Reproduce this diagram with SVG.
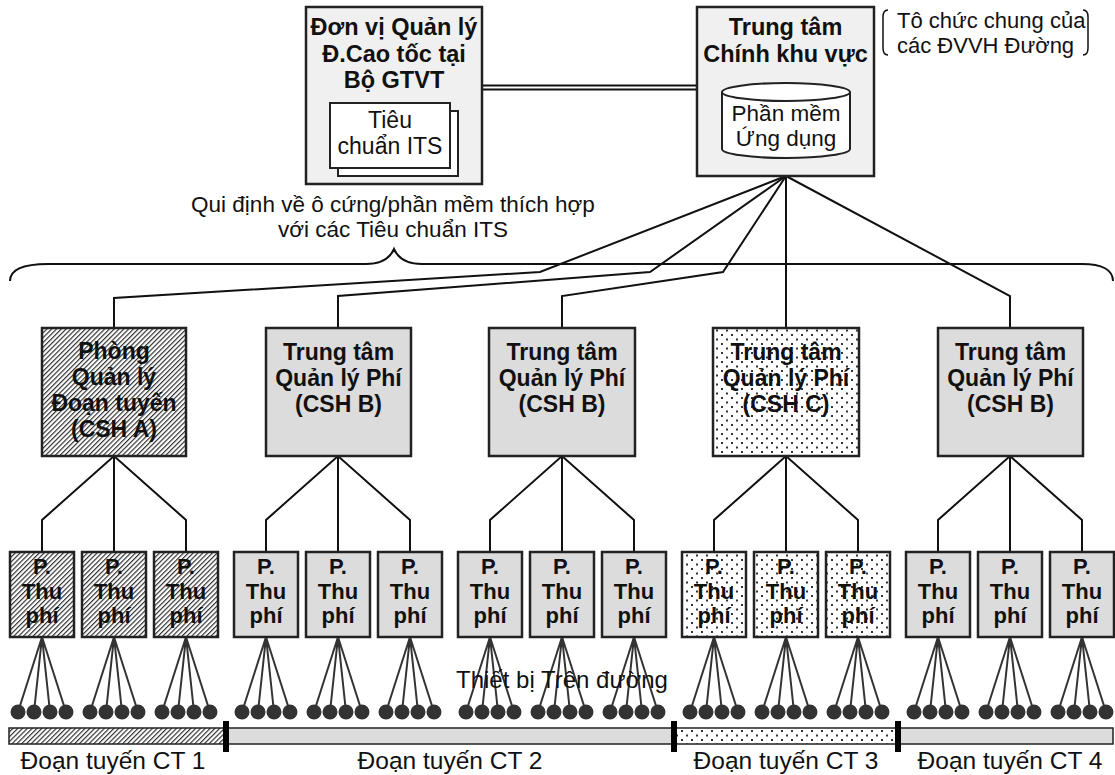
<svg xmlns="http://www.w3.org/2000/svg" width="1115" height="775" viewBox="0 0 1115 775">
<defs>
<style>
.t{font-family:"Liberation Sans",Arial,sans-serif;fill:#111;text-anchor:middle}
.b{font-weight:bold;font-size:23.5px}
.m{font-weight:bold;font-size:23px}
.p{font-weight:bold;font-size:22px}
.r{font-size:23px}
.bx{stroke:#222;stroke-width:2.5}
.ln{fill:none;stroke:#111;stroke-width:2}
.fan{stroke:#333;stroke-width:2}
.dot{fill:#333}
</style>
<pattern id="hatch" width="3.4" height="3.4" patternUnits="userSpaceOnUse" patternTransform="rotate(45)">
<rect width="3.4" height="3.4" fill="#fff"/>
<line x1="0.6" y1="0" x2="0.6" y2="3.4" stroke="#222" stroke-width="1.1"/>
</pattern>
<pattern id="dots" width="10" height="9" patternUnits="userSpaceOnUse">
<rect width="10" height="9" fill="#fff"/>
<rect x="1" y="1" width="2" height="2" fill="#333"/>
<rect x="6" y="5.5" width="2" height="2" fill="#333"/>
</pattern>
</defs>
<rect width="1115" height="775" fill="#fff"/>

<!-- brace and annotation -->
<g id="annotations" fill="none" stroke="#111" stroke-width="2">
<path d="M10,281 C10,270 22,264 48,264 L366,264 C382,264 390,258 394,249 C398,258 406,264 422,264 L1082,264 C1102,264 1113,270 1113,281"/>
<path d="M888,10 C884,10 883,13 883,17 L883,48 C883,52 884,55 888,55" stroke-width="1.5"/>
<path d="M1083,10 C1087,10 1088,13 1088,17 L1088,48 C1088,52 1087,55 1083,55" stroke-width="1.5"/>
</g>
<text class="t" style="font-size:22px;text-anchor:start"><tspan x="897" y="28">Tô chức chung của</tspan><tspan x="897" y="53">các ĐVVH Đường</tspan></text>
<text class="t" style="font-size:22.5px"><tspan x="393" y="212">Qui định về ô cứng/phần mềm thích hợp</tspan><tspan x="393" y="237">với các Tiêu chuẩn ITS</tspan></text>

<!-- connectors -->
<g id="connectors">
<line x1="482" y1="85.5" x2="697" y2="85.5" class="ln"/>
<line x1="482" y1="89.5" x2="697" y2="89.5" class="ln"/>
<polyline class="ln" points="786,176 540,272 114,298 114,328"/>
<polyline class="ln" points="786,176 650,272 338,296 338,328"/>
<polyline class="ln" points="786,176 723,272 562,296 562,328"/>
<polyline class="ln" points="786,176 786,328"/>
<polyline class="ln" points="786,176 1010,296 1010,328"/>
<g id="mid-to-child">
<polyline class="ln" points="42,552 42,520 114,456 186,520 186,552"/><line class="ln" x1="114" y1="456" x2="114" y2="552"/>
<polyline class="ln" points="266,552 266,520 338,456 410,520 410,552"/><line class="ln" x1="338" y1="456" x2="338" y2="552"/>
<polyline class="ln" points="490,552 490,520 562,456 634,520 634,552"/><line class="ln" x1="562" y1="456" x2="562" y2="552"/>
<polyline class="ln" points="714,552 714,520 786,456 858,520 858,552"/><line class="ln" x1="786" y1="456" x2="786" y2="552"/>
<polyline class="ln" points="938,552 938,520 1010,456 1082,520 1082,552"/><line class="ln" x1="1010" y1="456" x2="1010" y2="552"/>
</g>
<g id="fans">
<path class="fan" d="M42,637L18,712M42,637L34,712M42,637L50,712M42,637L66,712"/>
<path class="fan" d="M114,637L90,712M114,637L106,712M114,637L122,712M114,637L138,712"/>
<path class="fan" d="M186,637L162,712M186,637L178,712M186,637L194,712M186,637L210,712"/>
<path class="fan" d="M266,637L242,712M266,637L258,712M266,637L274,712M266,637L290,712"/>
<path class="fan" d="M338,637L314,712M338,637L330,712M338,637L346,712M338,637L362,712"/>
<path class="fan" d="M410,637L386,712M410,637L402,712M410,637L418,712M410,637L434,712"/>
<path class="fan" d="M490,637L466,712M490,637L482,712M490,637L498,712M490,637L514,712"/>
<path class="fan" d="M562,637L538,712M562,637L554,712M562,637L570,712M562,637L586,712"/>
<path class="fan" d="M634,637L610,712M634,637L626,712M634,637L642,712M634,637L658,712"/>
<path class="fan" d="M714,637L690,712M714,637L706,712M714,637L722,712M714,637L738,712"/>
<path class="fan" d="M786,637L762,712M786,637L778,712M786,637L794,712M786,637L810,712"/>
<path class="fan" d="M858,637L834,712M858,637L850,712M858,637L866,712M858,637L882,712"/>
<path class="fan" d="M938,637L914,712M938,637L930,712M938,637L946,712M938,637L962,712"/>
<path class="fan" d="M1010,637L986,712M1010,637L1002,712M1010,637L1018,712M1010,637L1034,712"/>
<path class="fan" d="M1082,637L1058,712M1082,637L1074,712M1082,637L1090,712M1082,637L1106,712"/>
</g>
</g>

<!-- top nodes -->
<g id="node-dvql">
<rect class="bx" x="306" y="7" width="176" height="177" fill="#f0f0f0"/>
<text class="t b"><tspan x="394" y="35">Đơn vị Quản lý</tspan><tspan x="394" y="61.5">Đ.Cao tốc tại</tspan><tspan x="394" y="88">Bộ GTVT</tspan></text>
<rect x="338" y="111" width="120" height="65" fill="#fff" stroke="#222" stroke-width="2"/>
<rect x="330" y="103" width="120" height="65" fill="#fff" stroke="#222" stroke-width="2"/>
<text class="t r"><tspan x="390" y="128">Tiêu</tspan><tspan x="390" y="154">chuẩn ITS</tspan></text>
</g>
<g id="node-ttc">
<rect class="bx" x="697" y="7" width="177" height="169" fill="#f0f0f0"/>
<text class="t b"><tspan x="785.5" y="35">Trung tâm</tspan><tspan x="785.5" y="62">Chính khu vực</tspan></text>
<path d="M722,92 L722,149 A64,9 0 0 0 850,149 L850,92" fill="#fff" stroke="#222" stroke-width="2"/>
<ellipse cx="786" cy="92" rx="64" ry="9" fill="#fff" stroke="#222" stroke-width="2"/>
<text class="t" style="font-size:22.5px"><tspan x="786" y="121">Phần mềm</tspan><tspan x="786" y="146">Ứng dụng</tspan></text>
</g>

<!-- middle nodes -->
<g id="node-pql-a">
<rect class="bx" x="42" y="328" width="144" height="128" fill="url(#hatch)"/>
<text class="t m"><tspan x="114" y="359">Phòng</tspan><tspan x="114" y="385">Quản lý</tspan><tspan x="114" y="411">Đoạn tuyến</tspan><tspan x="114" y="437">(CSH A)</tspan></text>
</g>
<g id="node-ttqlp-b1">
<rect class="bx" x="266" y="328" width="145" height="128" fill="#dcdcdc"/>
<text class="t m"><tspan x="338.5" y="360">Trung tâm</tspan><tspan x="338.5" y="386">Quản lý Phí</tspan><tspan x="338.5" y="412">(CSH B)</tspan></text>
</g>
<g id="node-ttqlp-b2">
<rect class="bx" x="489" y="328" width="146" height="128" fill="#dcdcdc"/>
<text class="t m"><tspan x="562" y="360">Trung tâm</tspan><tspan x="562" y="386">Quản lý Phí</tspan><tspan x="562" y="412">(CSH B)</tspan></text>
</g>
<g id="node-ttqlp-c">
<rect class="bx" x="713" y="328" width="146" height="128" fill="url(#dots)"/>
<text class="t m"><tspan x="786" y="360">Trung tâm</tspan><tspan x="786" y="386">Quản lý Phí</tspan><tspan x="786" y="412">(CSH C)</tspan></text>
</g>
<g id="node-ttqlp-b3">
<rect class="bx" x="938" y="328" width="145" height="128" fill="#dcdcdc"/>
<text class="t m"><tspan x="1010.5" y="360">Trung tâm</tspan><tspan x="1010.5" y="386">Quản lý Phí</tspan><tspan x="1010.5" y="412">(CSH B)</tspan></text>
</g>

<!-- toll booths -->
<g id="booth-a1"><rect class="bx" x="10" y="552" width="64" height="85" fill="url(#hatch)"/><text class="t p"><tspan x="42" y="574">P.</tspan><tspan x="42" y="598.5">Thu</tspan><tspan x="42" y="623">phí</tspan></text></g>
<g id="booth-a2"><rect class="bx" x="82" y="552" width="64" height="85" fill="url(#hatch)"/><text class="t p"><tspan x="114" y="574">P.</tspan><tspan x="114" y="598.5">Thu</tspan><tspan x="114" y="623">phí</tspan></text></g>
<g id="booth-a3"><rect class="bx" x="154" y="552" width="64" height="85" fill="url(#hatch)"/><text class="t p"><tspan x="186" y="574">P.</tspan><tspan x="186" y="598.5">Thu</tspan><tspan x="186" y="623">phí</tspan></text></g>
<g id="booth-b1"><rect class="bx" x="234" y="552" width="64" height="85" fill="#dcdcdc"/><text class="t p"><tspan x="266" y="574">P.</tspan><tspan x="266" y="598.5">Thu</tspan><tspan x="266" y="623">phí</tspan></text></g>
<g id="booth-b2"><rect class="bx" x="306" y="552" width="64" height="85" fill="#dcdcdc"/><text class="t p"><tspan x="338" y="574">P.</tspan><tspan x="338" y="598.5">Thu</tspan><tspan x="338" y="623">phí</tspan></text></g>
<g id="booth-b3"><rect class="bx" x="378" y="552" width="64" height="85" fill="#dcdcdc"/><text class="t p"><tspan x="410" y="574">P.</tspan><tspan x="410" y="598.5">Thu</tspan><tspan x="410" y="623">phí</tspan></text></g>
<g id="booth-b4"><rect class="bx" x="458" y="552" width="64" height="85" fill="#dcdcdc"/><text class="t p"><tspan x="490" y="574">P.</tspan><tspan x="490" y="598.5">Thu</tspan><tspan x="490" y="623">phí</tspan></text></g>
<g id="booth-b5"><rect class="bx" x="530" y="552" width="64" height="85" fill="#dcdcdc"/><text class="t p"><tspan x="562" y="574">P.</tspan><tspan x="562" y="598.5">Thu</tspan><tspan x="562" y="623">phí</tspan></text></g>
<g id="booth-b6"><rect class="bx" x="602" y="552" width="64" height="85" fill="#dcdcdc"/><text class="t p"><tspan x="634" y="574">P.</tspan><tspan x="634" y="598.5">Thu</tspan><tspan x="634" y="623">phí</tspan></text></g>
<g id="booth-c1"><rect class="bx" x="682" y="552" width="64" height="85" fill="url(#dots)"/><text class="t p"><tspan x="714" y="574">P.</tspan><tspan x="714" y="598.5">Thu</tspan><tspan x="714" y="623">phí</tspan></text></g>
<g id="booth-c2"><rect class="bx" x="754" y="552" width="64" height="85" fill="url(#dots)"/><text class="t p"><tspan x="786" y="574">P.</tspan><tspan x="786" y="598.5">Thu</tspan><tspan x="786" y="623">phí</tspan></text></g>
<g id="booth-c3"><rect class="bx" x="826" y="552" width="64" height="85" fill="url(#dots)"/><text class="t p"><tspan x="858" y="574">P.</tspan><tspan x="858" y="598.5">Thu</tspan><tspan x="858" y="623">phí</tspan></text></g>
<g id="booth-b7"><rect class="bx" x="906" y="552" width="64" height="85" fill="#dcdcdc"/><text class="t p"><tspan x="938" y="574">P.</tspan><tspan x="938" y="598.5">Thu</tspan><tspan x="938" y="623">phí</tspan></text></g>
<g id="booth-b8"><rect class="bx" x="978" y="552" width="64" height="85" fill="#dcdcdc"/><text class="t p"><tspan x="1010" y="574">P.</tspan><tspan x="1010" y="598.5">Thu</tspan><tspan x="1010" y="623">phí</tspan></text></g>
<g id="booth-b9"><rect class="bx" x="1050" y="552" width="64" height="85" fill="#dcdcdc"/><text class="t p"><tspan x="1082" y="574">P.</tspan><tspan x="1082" y="598.5">Thu</tspan><tspan x="1082" y="623">phí</tspan></text></g>

<!-- roadside devices -->
<g id="devices" class="dot">
<circle cx="18" cy="712" r="7.5"/><circle cx="34" cy="712" r="7.5"/><circle cx="50" cy="712" r="7.5"/><circle cx="66" cy="712" r="7.5"/>
<circle cx="90" cy="712" r="7.5"/><circle cx="106" cy="712" r="7.5"/><circle cx="122" cy="712" r="7.5"/><circle cx="138" cy="712" r="7.5"/>
<circle cx="162" cy="712" r="7.5"/><circle cx="178" cy="712" r="7.5"/><circle cx="194" cy="712" r="7.5"/><circle cx="210" cy="712" r="7.5"/>
<circle cx="242" cy="712" r="7.5"/><circle cx="258" cy="712" r="7.5"/><circle cx="274" cy="712" r="7.5"/><circle cx="290" cy="712" r="7.5"/>
<circle cx="314" cy="712" r="7.5"/><circle cx="330" cy="712" r="7.5"/><circle cx="346" cy="712" r="7.5"/><circle cx="362" cy="712" r="7.5"/>
<circle cx="386" cy="712" r="7.5"/><circle cx="402" cy="712" r="7.5"/><circle cx="418" cy="712" r="7.5"/><circle cx="434" cy="712" r="7.5"/>
<circle cx="466" cy="712" r="7.5"/><circle cx="482" cy="712" r="7.5"/><circle cx="498" cy="712" r="7.5"/><circle cx="514" cy="712" r="7.5"/>
<circle cx="538" cy="712" r="7.5"/><circle cx="554" cy="712" r="7.5"/><circle cx="570" cy="712" r="7.5"/><circle cx="586" cy="712" r="7.5"/>
<circle cx="610" cy="712" r="7.5"/><circle cx="626" cy="712" r="7.5"/><circle cx="642" cy="712" r="7.5"/><circle cx="658" cy="712" r="7.5"/>
<circle cx="690" cy="712" r="7.5"/><circle cx="706" cy="712" r="7.5"/><circle cx="722" cy="712" r="7.5"/><circle cx="738" cy="712" r="7.5"/>
<circle cx="762" cy="712" r="7.5"/><circle cx="778" cy="712" r="7.5"/><circle cx="794" cy="712" r="7.5"/><circle cx="810" cy="712" r="7.5"/>
<circle cx="834" cy="712" r="7.5"/><circle cx="850" cy="712" r="7.5"/><circle cx="866" cy="712" r="7.5"/><circle cx="882" cy="712" r="7.5"/>
<circle cx="914" cy="712" r="7.5"/><circle cx="930" cy="712" r="7.5"/><circle cx="946" cy="712" r="7.5"/><circle cx="962" cy="712" r="7.5"/>
<circle cx="986" cy="712" r="7.5"/><circle cx="1002" cy="712" r="7.5"/><circle cx="1018" cy="712" r="7.5"/><circle cx="1034" cy="712" r="7.5"/>
<circle cx="1058" cy="712" r="7.5"/><circle cx="1074" cy="712" r="7.5"/><circle cx="1090" cy="712" r="7.5"/><circle cx="1106" cy="712" r="7.5"/>
</g>
<text class="t" style="font-size:24px" x="562" y="688">Thiết bị Trên đường</text>

<!-- road bar -->
<g id="road">
<rect x="9" y="728" width="217" height="16" fill="url(#hatch)" stroke="#222" stroke-width="1.5"/>
<rect x="226" y="728" width="448" height="16" fill="#dcdcdc" stroke="#222" stroke-width="1.5"/>
<rect x="674" y="728" width="224" height="16" fill="url(#dots)" stroke="#222" stroke-width="1.5"/>
<rect x="898" y="728" width="215" height="16" fill="#dcdcdc" stroke="#222" stroke-width="1.5"/>
<rect x="223" y="721" width="6" height="31" fill="#000"/>
<rect x="671" y="721" width="6" height="31" fill="#000"/>
<rect x="895" y="721" width="6" height="31" fill="#000"/>
</g>
<text class="t" style="font-size:24.5px" x="113" y="769">Đoạn tuyến CT 1</text>
<text class="t" style="font-size:24.5px" x="450" y="769">Đoạn tuyến CT 2</text>
<text class="t" style="font-size:24.5px" x="786" y="769">Đoạn tuyến CT 3</text>
<text class="t" style="font-size:24.5px" x="1010" y="769">Đoạn tuyến CT 4</text>
</svg>
